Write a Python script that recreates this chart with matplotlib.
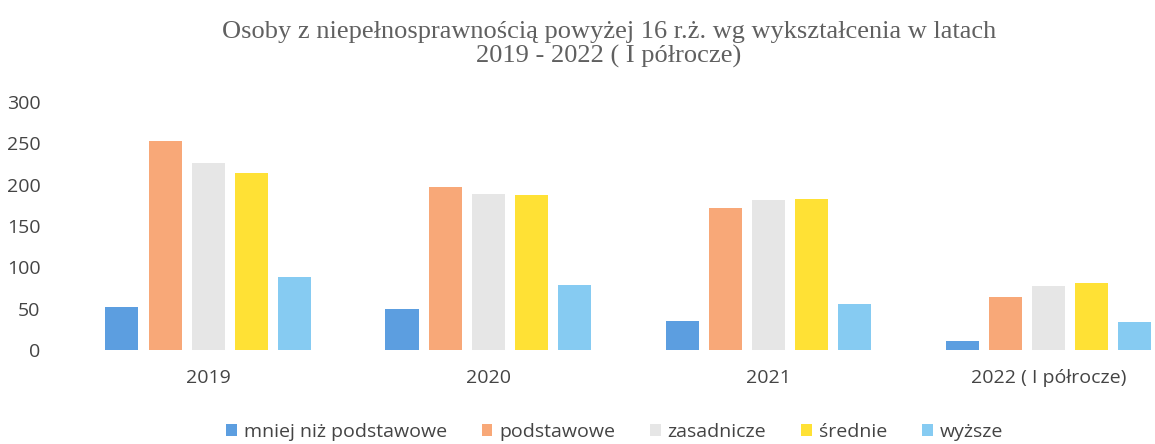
import matplotlib
matplotlib.use("Agg")
from matplotlib import pyplot as plt
import numpy as np

years = ["2019", "2020", "2021", "2022 ( I półrocze)"]
series = ["mniej niż podstawowe", "podstawowe", "zasadnicze", "średnie", "wyższe"]
mniej = [52, 50, 35, 11]
podst = [253, 197, 172, 64]
zasad = [226, 189, 181, 77]
srednie = [214, 188, 183, 81]
wyzsze = [88, 79, 56, 34]
values = [mniej, podst, zasad, srednie, wyzsze]
colors = ["#5c9ee0", "#f8a878", "#e6e6e6", "#ffe135", "#86cbf2"]

plt.rcParams['font.family'] = ['Open Sans', 'DejaVu Sans']

fig = plt.figure(figsize=(11.55, 4.44), dpi=100)
ax = fig.add_axes([0.059, 0.212, 0.97, 0.558])

x = np.arange(len(years))
pitch = 0.154
width = 0.118
for i, (name, vals) in enumerate(zip(series, values)):
    ax.bar(x + (i - 2) * pitch, vals, width, color=colors[i], label=name)

ax.set_xlim(-0.5, 3.5)
ax.set_ylim(0, 300)
ax.set_yticks(range(0, 301, 50))
ax.set_xticks(x)
ax.set_xticklabels(years)
for s in ax.spines.values():
    s.set_visible(False)
ax.tick_params(axis='both', length=0, labelsize=14, colors="#444444")
ax.tick_params(axis='y', pad=20)
ax.tick_params(axis='x', pad=14)

fig.text(0.527, 0.9, "Osoby z niepełnosprawnością powyżej 16 r.ż. wg wykształcenia w latach\n2019 - 2022 ( I półrocze)",
         ha="center", va="center", fontsize=19, family=["Liberation Serif", "DejaVu Serif"],
         color="#606060", linespacing=1.1)

leg = fig.legend(loc="center", bbox_to_anchor=(0.532, 0.027), ncol=5, frameon=False,
                 fontsize=14, handlelength=0.55, handleheight=0.55, handletextpad=0.35,
                 columnspacing=1.8)
for t in leg.get_texts():
    t.set_color("#444444")

fig.savefig("out.png", dpi=100)
